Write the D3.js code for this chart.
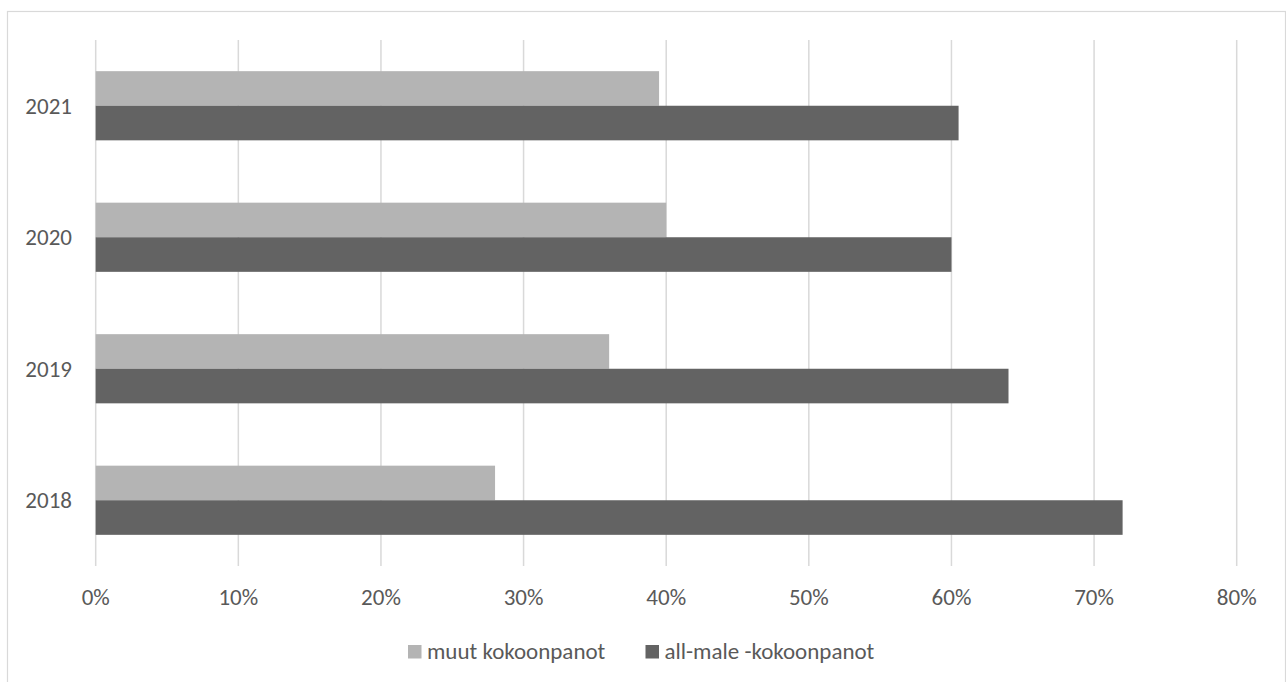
<!DOCTYPE html>
<html>
<head>
<meta charset="utf-8">
<script src="https://cdn.jsdelivr.net/npm/d3@7"></script>
<style>
  html, body { margin: 0; padding: 0; background: #fff; }
  svg { display: block; }
  text { font-family: Carlito, Lato, "Liberation Sans", sans-serif; fill: #595959; }
</style>
</head>
<body>
<svg id="chart" width="1286" height="682"></svg>
<script>
// Years, top to bottom
const years = ["2021", "2020", "2019", "2018"];
// Share of other compositions (%)
const muut = [39.5, 40, 36, 28];
// Share of all-male compositions (%)
const allMale = [60.5, 60, 64, 72];
// X-axis tick values (%)
const ticks = [0, 10, 20, 30, 40, 50, 60, 70, 80];

const seriesNames = ["muut kokoonpanot", "all-male -kokoonpanot"];
const colors = ["#b4b4b4", "#636363"];

const svg = d3.select("#chart");

// Chart area outline
svg.append("rect")
  .attr("x", 7.5).attr("y", 11.5)
  .attr("width", 1278).attr("height", 700)
  .attr("fill", "#fff").attr("stroke", "#d9d9d9").attr("stroke-width", 1.2);

const plot = { left: 95.7, right: 1236.7, top: 40, bottom: 566 };

const x = d3.scaleLinear().domain([0, 80]).range([plot.left, plot.right]);
const y = d3.scaleBand().domain(years).range([plot.top, plot.bottom])
  .paddingInner(0.474).paddingOuter(0.237);
const ySub = d3.scaleBand().domain([0, 1]).range([0, y.bandwidth()]);

// Vertical gridlines
svg.append("g").selectAll("line").data(ticks).join("line")
  .attr("x1", d => x(d)).attr("x2", d => x(d))
  .attr("y1", plot.top).attr("y2", plot.bottom)
  .attr("stroke", "#d9d9d9").attr("stroke-width", 1.5);

// Bars
const rows = years.map((yr, i) => ({ yr, vals: [muut[i], allMale[i]] }));
const groups = svg.append("g").selectAll("g").data(rows).join("g")
  .attr("transform", d => `translate(0,${y(d.yr)})`);
groups.selectAll("rect").data(d => d.vals.map((v, k) => ({ v, k }))).join("rect")
  .attr("x", x(0))
  .attr("y", d => ySub(d.k))
  .attr("width", d => x(d.v) - x(0))
  .attr("height", ySub.bandwidth())
  .attr("fill", d => colors[d.k]);

// X axis labels
const fs = 23;
svg.append("g").selectAll("text").data(ticks).join("text")
  .attr("x", d => x(d)).attr("y", 605)
  .attr("text-anchor", "middle")
  .style("font-size", fs + "px")
  .text(d => d + "%");

// Y axis labels
svg.append("g").selectAll("text").data(years).join("text")
  .attr("x", 72).attr("y", d => y(d) + y.bandwidth() / 2)
  .attr("dy", "0.35em")
  .attr("text-anchor", "end")
  .style("font-size", fs + "px")
  .text(d => d);

// Legend
const legend = svg.append("g");
const items = [{ x: 408 }, { x: 645.5 }];
items.forEach((it, k) => {
  legend.append("rect")
    .attr("x", it.x).attr("y", 645).attr("width", 13.5).attr("height", 13.5)
    .attr("fill", colors[k]);
  legend.append("text")
    .attr("x", it.x + 19).attr("y", 658.5)
    .style("font-size", fs + "px")
    .text(seriesNames[k]);
});
</script>
</body>
</html>
